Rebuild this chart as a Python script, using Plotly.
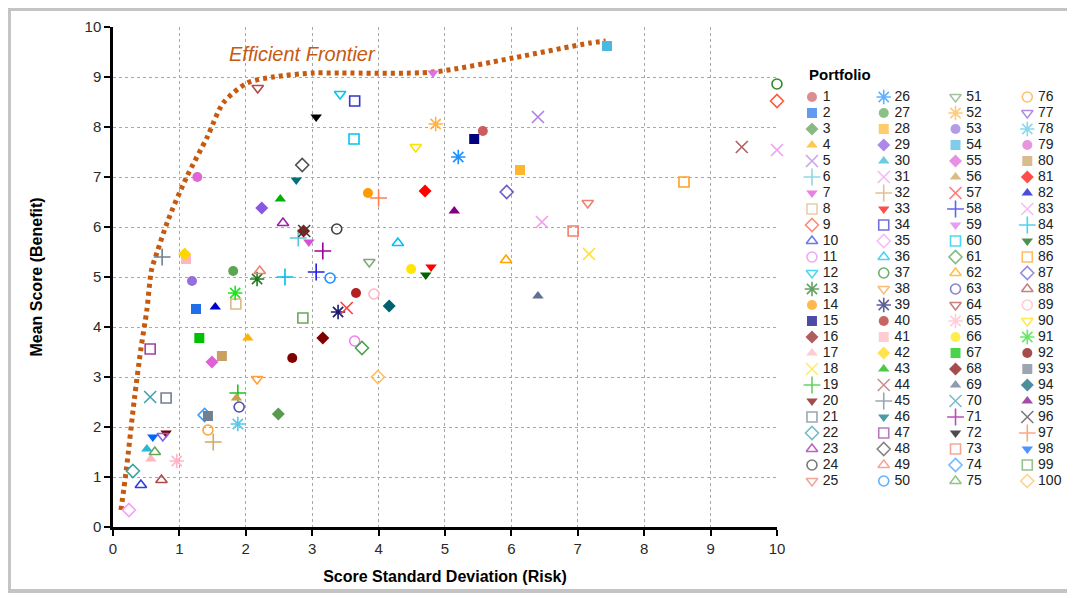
import plotly.graph_objects as go

# ---------------- data ----------------
portfolios = [str(i) for i in range(1, 101)]

risk = [5.57, 1.25, 2.49, 2.03, 6.40, 2.79, 2.95, 1.85, 10.0, 0.42,
        3.64, 3.42, 2.17, 3.84, 5.44, 2.87, 0.57, 7.17, 1.88, 0.80,
        0.80, 0.30, 2.56, 3.37, 7.15, 5.20, 1.81, 6.13, 2.24, 0.51,
        6.46, 1.51, 4.79, 3.64, 0.24, 4.29, 10.0, 2.17, 3.39, 3.66,
        1.10, 1.08, 2.52, 9.47, 0.74, 2.76, 0.56, 2.85, 2.21, 3.27,
        3.86, 4.86, 1.19, 7.44, 1.49, 1.86, 3.52, 3.06, 4.82, 3.63,
        3.75, 5.92, 1.90, 2.18, 0.96, 4.49, 1.30, 3.16, 6.40, 0.56,
        3.16, 3.06, 6.93, 1.38, 0.63, 1.43, 0.75, 1.88, 1.27, 1.64,
        4.70, 1.54, 10.0, 2.59, 4.71, 8.60, 5.93, 0.73, 3.93, 4.56,
        1.84, 2.70, 1.43, 4.16, 5.14, 2.88, 4.00, 0.60, 2.86, 3.99]

benefit = [7.92, 4.36, 2.26, 3.78, 8.20, 5.78, 5.70, 4.46, 8.52, 0.84,
           3.72, 8.66, 4.96, 6.68, 7.76, 5.92, 1.36, 5.46, 2.68, 1.88,
           2.58, 1.12, 6.08, 5.96, 6.48, 7.40, 5.12, 7.14, 6.38, 1.56,
           6.10, 1.70, 5.20, 8.52, 0.34, 5.68, 8.86, 2.96, 4.30, 4.68,
           5.36, 5.46, 6.56, 7.60, 5.40, 6.94, 3.56, 7.24, 5.12, 4.98,
           5.30, 8.06, 4.92, 9.62, 3.30, 2.58, 4.38, 5.10, 9.08, 7.76,
           3.58, 5.34, 2.40, 8.78, 1.32, 5.16, 3.78, 3.78, 4.62, 2.60,
           5.52, 8.20, 5.92, 2.24, 1.50, 1.94, 1.82, 2.06, 7.00, 3.42,
           6.72, 4.40, 7.54, 5.00, 5.04, 6.90, 6.70, 0.94, 4.66, 7.60,
           4.68, 3.38, 2.22, 4.42, 6.32, 5.92, 6.58, 1.80, 4.18, 3.00]

frontier_risk = [0.12, 0.20, 0.32, 0.42, 0.51, 0.58, 0.66, 0.83, 1.11, 1.42,
                 1.66, 2.02, 2.41, 3.01, 3.42, 4.82, 6.02, 7.18, 7.42]
frontier_benefit = [0.34, 1.14, 2.54, 3.56, 4.34, 5.14, 5.48, 6.14, 7.00, 7.80,
                    8.48, 8.88, 9.00, 9.08, 9.08, 9.10, 9.38, 9.68, 9.72]

x_ticks = list(range(0, 11))
y_ticks = list(range(0, 11))

# ---------------- styles ----------------
symbol_cycle = ["circle", "square", "diamond", "triangle-up", "x-thin-open",
                "cross-thin-open", "triangle-down", "square-open", "diamond-open",
                "triangle-up-open", "circle-open", "triangle-down-open", "asterisk-open"]

colors = ["#CD5C5C", "#1E6FE8", "#5B9A4E", "#FFB300", "#B07FE8", "#5BC8D8", "#D74FD7", "#DEB887", "#FF5A3C", "#2E3FE0",
          "#EE82EE", "#00C8F0", "#1F7A1F", "#FF9A00", "#000080", "#8B1A1A", "#FFB6C1", "#FFE135", "#22C022", "#7B0000",
          "#708090", "#3AA3A3", "#A020A8", "#404040", "#F08070", "#1E90FF", "#5CA552", "#FFB52E", "#8A56E2", "#2EB5D4",
          "#F29BE8", "#D2A868", "#FF0000", "#3535D0", "#F5A0F5", "#00C0F5", "#2E8B2E", "#FFA040", "#191970", "#B22222",
          "#FFB6C1", "#FFD700", "#00B200", "#B06060", "#708090", "#00707A", "#A040A0", "#505050", "#F08070", "#1E90FF",
          "#80A878", "#FFB347", "#9370DB", "#4BB8E0", "#E060D8", "#C8A050", "#FF4040", "#2020E8", "#E070E8", "#00C5F0",
          "#4EA04E", "#FFA500", "#5050B0", "#B04A4A", "#FFB6C8", "#FFE600", "#00C000", "#800000", "#607090", "#40A0B0",
          "#A000A0", "#000000", "#F08070", "#3C9BFF", "#66A85A", "#FFA530", "#9060E0", "#5AC8E6", "#E066D0", "#C8A060",
          "#FF0000", "#0000CD", "#F0A0F0", "#00C0E8", "#006400", "#FFA020", "#6A5ACD", "#B04848", "#FFB6C1", "#FFE000",
          "#22E022", "#800000", "#708090", "#006070", "#800080", "#404040", "#FF7F50", "#0066FF", "#6AA85A", "#FFC060"]

FONT = "Liberation Sans, Arial, sans-serif"
FRONTIER_COLOR = "#C55A11"
THIN = ("x-thin-open", "cross-thin-open", "asterisk-open")


def sym_of(i):
    return symbol_cycle[i % len(symbol_cycle)]


def size_of(i):
    return 12 if sym_of(i) in THIN else 10


def lw_of(i):
    return 1.6 if sym_of(i).endswith("-open") else 0


fig = go.Figure()

# efficient frontier
fig.add_trace(go.Scatter(x=frontier_risk, y=frontier_benefit, mode="lines",
                         line=dict(color=FRONTIER_COLOR, width=5, dash="4px,4px",
                                   shape="spline", smoothing=0.8),
                         name="Efficient Frontier", showlegend=False, hoverinfo="skip"))

# portfolios
for i, name in enumerate(portfolios):
    fig.add_trace(go.Scatter(x=[risk[i]], y=[benefit[i]], mode="markers", name=name,
                             marker=dict(symbol=sym_of(i), color=colors[i], size=size_of(i),
                                         line=dict(color=colors[i], width=lw_of(i))),
                             cliponaxis=False, showlegend=False))

# manual legend (4 columns x 25 rows) on an auxiliary axis
n = len(portfolios)
leg_col = [i // 25 for i in range(n)]
leg_row = [i % 25 for i in range(n)]
fig.add_trace(go.Scatter(
    x=leg_col, y=leg_row, mode="markers", xaxis="x2", yaxis="y2",
    marker=dict(symbol=[sym_of(i) for i in range(n)], color=colors,
                size=[size_of(i) for i in range(n)],
                line=dict(color=colors, width=[lw_of(i) for i in range(n)])),
    showlegend=False, hoverinfo="skip", cliponaxis=False))
fig.add_trace(go.Scatter(
    x=[c + 0.15 for c in leg_col], y=leg_row, mode="text", xaxis="x2", yaxis="y2",
    text=portfolios, textposition="middle right",
    textfont=dict(family=FONT, size=14, color="#222222"),
    showlegend=False, hoverinfo="skip", cliponaxis=False))

axis_common = dict(range=[0, 10], showgrid=True, gridcolor="#a8a8a8", griddash="dot",
                   gridwidth=1, showline=True, linecolor="black", linewidth=2.5,
                   ticks="outside", ticklen=6, tickwidth=1.5, tickcolor="black",
                   tickfont=dict(family=FONT, size=15, color="#2a2a2a"), zeroline=False,
                   automargin=False)

fig.update_layout(
    width=1075, height=598,
    margin=dict(l=105, r=13, t=19, b=79),
    paper_bgcolor="white", plot_bgcolor="white",
    showlegend=False,
    font=dict(family=FONT),
    xaxis=dict(axis_common, domain=[0, 0.6938], tickvals=x_ticks,
               title=dict(text="<b>Score Standard Deviation (Risk)</b>",
                          font=dict(family=FONT, size=16, color="black"), standoff=16)),
    yaxis=dict(axis_common, tickvals=y_ticks,
               title=dict(text="<b>Mean Score (Benefit)</b>",
                          font=dict(family=FONT, size=16, color="black"), standoff=38)),
    xaxis2=dict(domain=[0.7, 1.0], range=[-0.405, 3.595], visible=False, anchor="y2"),
    yaxis2=dict(domain=[0, 1], range=[26.875, -4.375], visible=False, anchor="x2"),
    annotations=[
        dict(text="<b>Portfolio</b>", xref="x2", yref="y2", x=-0.07, y=-1.4,
             xanchor="left", yanchor="middle", showarrow=False,
             font=dict(family=FONT, size=15, color="black")),
        dict(text="<i>Efficient Frontier</i>", xref="x", yref="y", x=2.86, y=9.46,
             xanchor="center", yanchor="middle", showarrow=False,
             font=dict(family=FONT, size=20, color=FRONTIER_COLOR)),
    ],
    shapes=[dict(type="rect", xref="paper", yref="paper",
                 x0=-0.1087, x1=0.999, y0=-0.128, y1=1.036,
                 line=dict(color="#c4c4c4", width=4), layer="below")],
)

fig.write_html("out.html")
